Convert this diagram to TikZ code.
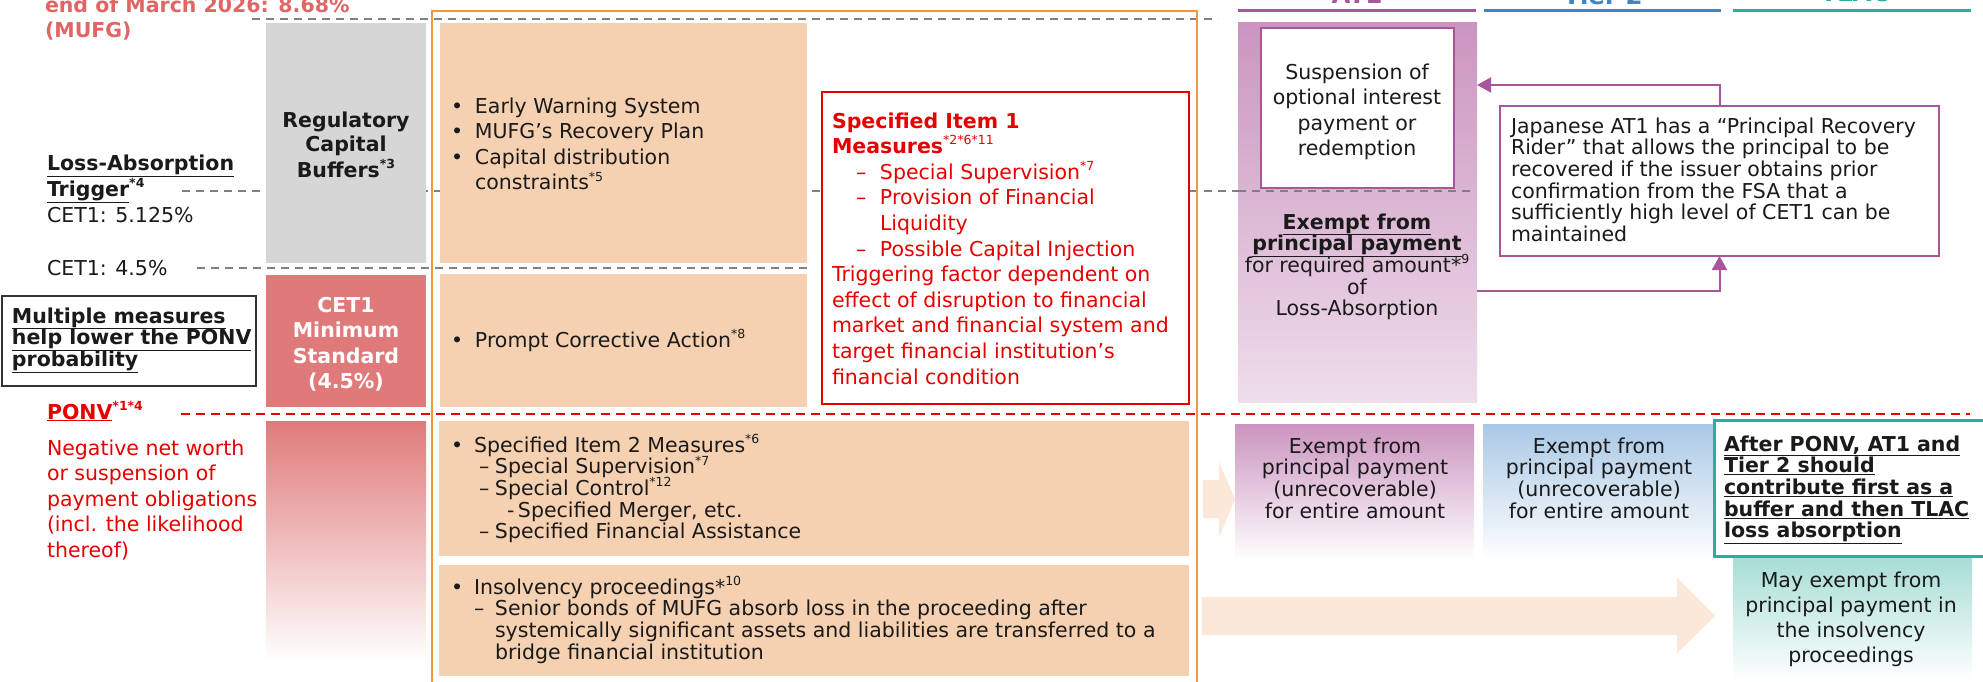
\documentclass[tikz,border=0pt]{standalone}
\usepackage{fontspec}
\setmainfont{DejaVu Sans}
\usetikzlibrary{arrows.meta,fit}
\definecolor{ink}{HTML}{1A1A1A}
\definecolor{dgray}{HTML}{808080}
\definecolor{boxgray}{HTML}{D6D6D6}
\definecolor{boxline}{HTML}{333333}
\definecolor{cetred}{HTML}{E07A7A}
\definecolor{peach}{HTML}{F6D1B1}
\definecolor{peachlight}{HTML}{FBE8D8}
\definecolor{orangeline}{HTML}{F0963C}
\definecolor{mred}{HTML}{E60000}
\definecolor{salmon}{HTML}{E06666}
\definecolor{purp}{HTML}{A8559A}
\definecolor{purpfill}{HTML}{CB94BF}
\definecolor{purplight}{HTML}{EEDDEB}
\definecolor{tblue}{HTML}{3D85C6}
\definecolor{bluefill}{HTML}{A9C8E5}
\definecolor{tealc}{HTML}{2BAE9E}
\definecolor{tealfill}{HTML}{A6DDD5}
\newcommand\szn{\fontsize{20.5}{25.6}\selectfont\lineskiplimit=-100pt\relax}
\newcommand\szt{\fontsize{20.5}{21.7}\selectfont\lineskiplimit=-100pt\relax}
\newcommand\szf{\fontsize{20.5}{25}\selectfont\lineskiplimit=-100pt\relax}
\newcommand\szh{\fontsize{24.5}{26}\selectfont}
\newcommand\supx[1]{\raisebox{0.42em}{\fontsize{12.5}{12.5}\selectfont #1}}
\begin{document}
\begin{tikzpicture}[x=1pt,y=-1pt,
  box/.style={inner sep=0pt,outer sep=0pt},
  tn/.style={inner sep=0pt,outer sep=0pt,text=ink},
  gdash/.style={draw=dgray,line width=2pt,dash pattern=on 8pt off 6pt},
  rdash/.style={draw=mred,line width=2.5pt,dash pattern=on 9pt off 6pt},
  plink/.style={draw=purp,line width=2pt,-{Triangle[length=14pt,width=15pt]}},
  parr/.style={fill=peachlight,draw=none}]

\useasboundingbox (0,0) rectangle (1983,682);
\fill[white] (0,0) rectangle (1983,682);

% headers (cut at top)
\node[tn,anchor=base,font={\szh\bfseries},text=purp] (hat1) at (1357,4) {AT1};
\node[tn,anchor=base,font={\szh\bfseries},text=tblue] (ht2) at (1603,5) {Tier 2};
\node[tn,anchor=base,font={\szh\bfseries},text=tealc] (htlac) at (1855,2) {TLAC};
\draw[purp,line width=3pt] (1238,11) -- (1476,11);
\draw[tblue,line width=3pt] (1484,11) -- (1721,11);
\draw[tealc,line width=3pt] (1733,11) -- (1971,11);

% dashed level lines (behind)
\draw[gdash] (252,19) -- (1218,19);
\draw[gdash] (182,191) -- (1238,191);
\draw[gdash] (197,268) -- (807,268);
\draw[rdash] (181,414) -- (1970,414);

% left column boxes
\node[box,fit={(266,23)(426,263)},fill=boxgray] (regbox) {};
\node[box,fit={(266,275)(426,407)},fill=cetred] (cetbox) {};
\node[box,fit={(266,421)(426,662)},top color=cetred,bottom color=white] (gradbox) {};

% measures boxes
\node[box,fit={(440,23)(807,263)},fill=peach] (ewbox) {};
\node[box,fit={(440,274)(807,407)},fill=peach] (pcabox) {};
\node[box,fit={(439,421)(1189,556)},fill=peach] (it2box) {};
\node[box,fit={(439,565)(1189,676)},fill=peach] (insbox) {};
\node[box,fit={(822,92)(1189,404)},fill=white,draw=mred,line width=2.5pt] (it1box) {};

% orange frame
\draw[orangeline,line width=2.5pt] (432,690) -- (432,11) -- (1197,11) -- (1197,690);

% AT1 column
\node[box,fit={(1238,23)(1477,402)},top color=purpfill,bottom color=purplight] (at1col) {};
\draw[gdash] (1238,191) -- (1472,191);
\node[box,fit={(1261,28)(1454,188)},fill=white,draw=purp,line width=2.5pt] (susp) {};
\node[box,fit={(1500,106)(1939,256)},fill=white,draw=purp,line width=2.5pt] (jbox) {};
\draw[plink] (jbox.north) |- (at1col.east |- 0,85);
\draw[plink] (at1col.east |- 0,291) -| (jbox.south);

% lower right
\fill[parr] (1203,480) -- (1219,480) -- (1219,462) -- (1235,499) -- (1219,537) -- (1219,518) -- (1203,518) -- cycle;
\fill[parr] (1202,597) -- (1677,597) -- (1677,578) -- (1715,616) -- (1677,653) -- (1677,635) -- (1202,635) -- cycle;
\node[box,fit={(1235,424)(1474,560)},top color=purpfill,bottom color=white] (at1low) {};
\node[box,fit={(1483,424)(1715,560)},top color=bluefill,bottom color=white] (t2low) {};
\node[box,fit={(1733,556)(1972,682)},top color=tealfill,bottom color=white] (tlaclow) {};
\node[box,fit={(1714,420)(1995,556)},fill=white,draw=tealc,line width=3pt] (tlacbox) {};

% left texts (positions = baseline of last line)
\node[tn,anchor=base west,align=left,font={\szf\bfseries},text=salmon] (asof) at (45,38) {end of March 2026: 8.68\%\\(MUFG)};
\node[tn,anchor=base,align=center,font={\szf\bfseries}] (regtxt) at (346,177) {Regulatory\\Capital\\Buffers\supx{*3}};
\node[tn,anchor=base west,align=left,font={\szf\bfseries}] (lat) at (47,196) {\underline{Loss-Absorption}\\\underline{Trigger}\supx{*4}};
\node[tn,anchor=base west,font=\szn] (c5) at (47,222) {CET1: 5.125\%};
\node[tn,anchor=base west,font=\szn] (c45) at (47,275) {CET1: 4.5\%};
\node[box,fit={(2,296)(256,386)},draw=boxline,line width=2pt] (multibox) {};
\node[tn,anchor=base west,align=left,font={\szt\bfseries}] (multitxt) at (12,366.4) {\underline{Multiple measures}\\\underline{help lower the PONV}\\\underline{probability}};
\node[tn,anchor=base,align=center,font={\fontsize{20.5}{25.5}\selectfont\lineskiplimit=-100pt\bfseries},text=white] (cettxt) at (346,388.5) {CET1\\Minimum\\Standard\\(4.5\%)};
\node[tn,anchor=base west,font={\szn\bfseries},text=mred] (ponv) at (47,419) {\underline{PONV}\supx{*1*4}};
\node[tn,anchor=base west,align=left,font=\szn,text=mred] (neg) at (47,557.4) {Negative net worth\\or suspension of\\payment obligations\\(incl. the likelihood\\thereof)};

% measures texts
\node[tn,anchor=base west,align=left,font=\szn] (ewtxt) at (451,189.8) {\makebox[24pt][l]{•}Early Warning System\\\makebox[24pt][l]{•}MUFG’s Recovery Plan\\\makebox[24pt][l]{•}Capital distribution\\\hspace*{24pt}constraints\supx{*5}};
\node[tn,anchor=base west,font=\szn] (pcatxt) at (451,347) {\makebox[24pt][l]{•}Prompt Corrective Action\supx{*8}};
\node[tn,anchor=base west,align=left,font=\szn,text=mred] (it1txt) at (832,384) {\textbf{Specified Item 1}\\\textbf{Measures}\supx{*2*6*11}\\\hspace*{24pt}\makebox[24pt][l]{–}Special Supervision\supx{*7}\\\hspace*{24pt}\makebox[24pt][l]{–}Provision of Financial\\\hspace*{48pt}Liquidity\\\hspace*{24pt}\makebox[24pt][l]{–}Possible Capital Injection\\Triggering factor dependent on\\effect of disruption to financial\\market and financial system and\\target financial institution’s\\financial condition};
\node[tn,anchor=base west,align=left,font=\szt] (it2txt) at (451,538.8) {\makebox[23pt][l]{•}Specified Item 2 Measures\supx{*6}\\\hspace*{28pt}\makebox[16pt][l]{–}Special Supervision\supx{*7}\\\hspace*{28pt}\makebox[16pt][l]{–}Special Control\supx{*12}\\\hspace*{56pt}\makebox[11pt][l]{-}Specified Merger, etc.\\\hspace*{28pt}\makebox[16pt][l]{–}Specified Financial Assistance};
\node[tn,anchor=base west,align=left,font=\szt] (instxt) at (451,659.1) {\makebox[23pt][l]{•}Insolvency proceedings*\supx{10}\\\hspace*{23pt}\makebox[21pt][l]{–}Senior bonds of MUFG absorb loss in the proceeding after\\\hspace*{44pt}systemically significant assets and liabilities are transferred to a\\\hspace*{44pt}bridge financial institution};

% AT1 texts
\node[tn,anchor=base,align=center,font=\szn] (susptxt) at (1357,155.8) {Suspension of\\optional interest\\payment or\\redemption};
\node[tn,anchor=base,align=center,font=\szt] (exat1) at (1357,315.8) {\textbf{\underline{Exempt from}}\\\textbf{\underline{principal payment}}\\for required amount*\supx{9}\\of\\Loss-Absorption};
\node[tn,anchor=base west,align=left,font=\szt] (jtxt) at (1511,241.5) {Japanese AT1 has a “Principal Recovery\\Rider” that allows the principal to be\\recovered if the issuer obtains prior\\confirmation from the FSA that a\\sufficiently high level of CET1 can be\\maintained};

% lower texts
\node[tn,anchor=base,align=center,font=\szt] (at1lowtxt) at (1355,518.1) {Exempt from\\principal payment\\(unrecoverable)\\for entire amount};
\node[tn,anchor=base,align=center,font=\szt] (t2lowtxt) at (1599,518.1) {Exempt from\\principal payment\\(unrecoverable)\\for entire amount};
\node[tn,anchor=base west,align=left,font={\szt\bfseries}] (tlactxt) at (1724,537.8) {\underline{After PONV, AT1 and}\\\underline{Tier 2 should}\\\underline{contribute first as a}\\\underline{buffer and then TLAC}\\\underline{loss absorption}};
\node[tn,anchor=base,align=center,font=\szf] (tlaclowtxt) at (1851,662) {May exempt from\\principal payment in\\the insolvency\\proceedings};
\end{tikzpicture}
\end{document}
